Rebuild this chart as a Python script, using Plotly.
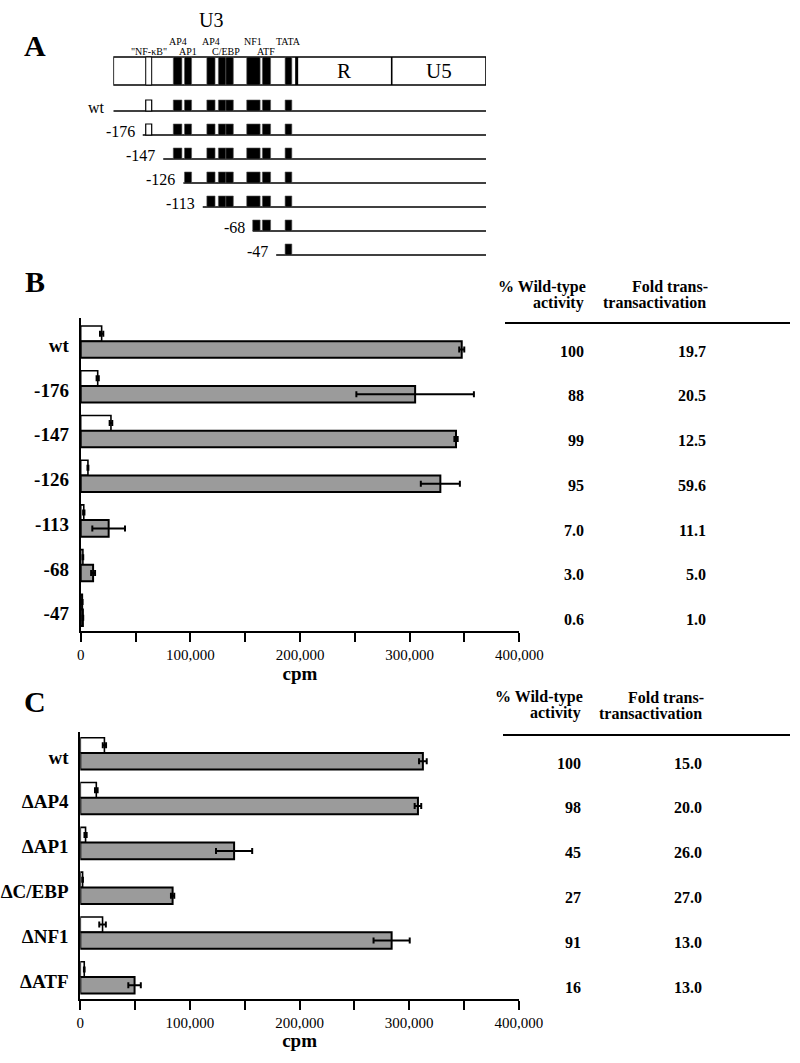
import plotly.graph_objects as go

# ---------------- data ----------------
# Panel A: LTR schematic (schematic units along the LTR, 0-100, not to scale)
ltr_regions = ["U3", "R", "U5"]
ltr_bounds = [0, 49.2, 74.7, 100]
site_names = ['"NF-\u03baB"', "AP4", "AP1", "AP4", "C/EBP", "C/EBP", "NF1", "ATF", "TATA"]
site_start = [8.7, 16.1, 19.1, 25.1, 28.2, 30.2, 35.8, 40.0, 46.1]
site_end = [10.3, 18.4, 21.0, 27.3, 30.2, 32.2, 39.4, 42.2, 47.9]
site_open = [True, False, False, False, False, False, False, False, False]
del_labels = ["wt", "-176", "-147", "-126", "-113", "-68", "-47"]
del_start = [0, 7.9, 13.4, 18.8, 24.0, 37.4, 43.7]

# Panel B: 5' deletions
b_labels = ["wt", "-176", "-147", "-126", "-113", "-68", "-47"]
b_basal = [19100, 15500, 27600, 6600, 2800, 2000, 1500]
b_basal_err = [1500, 1000, 1200, 400, 600, 300, 200]
b_tat = [347500, 305000, 342300, 328000, 25500, 11300, 2000]
b_tat_err = [2300, 53600, 1500, 17800, 14900, 1800, 300]
b_pct_wt = ["100", "88", "99", "95", "7.0", "3.0", "0.6"]
b_fold = ["19.7", "20.5", "12.5", "59.6", "11.1", "5.0", "1.0"]

# Panel C: site mutants
c_labels = ["wt", "\u0394AP4", "\u0394AP1", "\u0394C/EBP", "\u0394NF1", "\u0394ATF"]
c_basal = [22000, 14600, 4800, 2100, 20300, 3600]
c_basal_err = [1500, 1200, 1000, 300, 3000, 300]
c_tat = [312500, 308000, 140300, 84200, 284000, 49500]
c_tat_err = [3500, 3000, 16500, 1500, 16500, 5700]
c_pct_wt = ["100", "98", "45", "27", "91", "16"]
c_fold = ["15.0", "20.0", "26.0", "27.0", "13.0", "13.0"]

x_tickvals = [0, 50000, 100000, 150000, 200000, 250000, 300000, 350000, 400000]
x_ticktext = ["0", "", "100,000", "", "200,000", "", "300,000", "", "400,000"]
table_headers = [["% Wild-type", "activity"], ["Fold trans-", "transactivation"]]

# ---------------- layout helpers ----------------
W, H = 800, 1063
FONT = "Liberation Serif, Times New Roman, serif"
GRAY = "#9b9b9b"


def px(x):
    return x / W


def py(y):
    return 1 - y / H


fig = go.Figure()
shapes = []
annotations = []


def add_bars(values, errs, xa, ya, offset, width, color, lw):
    fig.add_trace(go.Bar(
        orientation="h", x=values, y=list(range(len(values))),
        xaxis=xa, yaxis=ya, offset=offset, width=width,
        marker=dict(color=color, line=dict(color="black", width=lw)),
        error_x=dict(type="data", array=errs, color="black", thickness=2, width=3),
        showlegend=False, hoverinfo="x+y"))


add_bars(b_basal, b_basal_err, "x", "y", -0.43, 0.34, "white", 1.6)
add_bars(b_tat, b_tat_err, "x", "y", -0.09, 0.37, GRAY, 2)
add_bars(c_basal, c_basal_err, "x2", "y2", -0.43, 0.34, "white", 1.6)
add_bars(c_tat, c_tat_err, "x2", "y2", -0.09, 0.37, GRAY, 2)

# ---------------- panel A schematic ----------------
ROW_PX = 24.0
ROW0 = 111.0
A_TOP, A_BOT = 5.0, 265.0


def arow(ypx):
    return (ypx - ROW0) / ROW_PX


box_top, box_bot = arow(57), arow(85)
blk_h = 11 / ROW_PX

# top box
shapes.append(dict(type="rect", xref="x3", yref="y3", x0=ltr_bounds[0], x1=ltr_bounds[-1],
                   y0=box_top, y1=box_bot, line=dict(color="black", width=1.6), fillcolor="rgba(0,0,0,0)"))
for i, s in enumerate(site_start):
    if site_open[i]:
        shapes.append(dict(type="rect", xref="x3", yref="y3", x0=s, x1=site_end[i], y0=box_top, y1=box_bot,
                           line=dict(color="black", width=1), fillcolor="white"))
    else:
        shapes.append(dict(type="rect", xref="x3", yref="y3", x0=s, x1=site_end[i], y0=box_top, y1=box_bot,
                           line=dict(color="#555", width=0.6), fillcolor="black"))
for k, b in enumerate(ltr_bounds[1:-1]):
    shapes.append(dict(type="line", xref="x3", yref="y3", x0=b, x1=b, y0=box_top, y1=box_bot,
                       line=dict(color="black", width=3 if k == 0 else 1.6)))
# region labels
annotations.append(dict(xref="x3", yref="y3", x=(site_start[3] + site_end[3]) / 2, y=arow(20), text=ltr_regions[0],
                        showarrow=False, yanchor="middle", font=dict(family=FONT, size=20, color="black")))
for k in (1, 2):
    annotations.append(dict(xref="x3", yref="y3", x=(ltr_bounds[k] + ltr_bounds[k + 1]) / 2,
                            y=(box_top + box_bot) / 2, text=ltr_regions[k], showarrow=False, yanchor="middle",
                            font=dict(family=FONT, size=21, color="black")))
# site labels (alternating two rows, one label per site name group)
lab_idx = 0
i = 0
while i < len(site_names):
    j = i
    while j + 1 < len(site_names) and site_names[j + 1] == site_names[i]:
        j += 1
    cx = (site_start[i] + site_end[j]) / 2
    yrow = arow(51.5) if lab_idx % 2 == 0 else arow(41)
    annotations.append(dict(xref="x3", yref="y3", x=cx, y=yrow, text=site_names[i], showarrow=False,
                            yanchor="middle", font=dict(family=FONT, size=10, color="black")))
    lab_idx += 1
    i = j + 1

# deletion constructs
lx, ly = [], []
for r, st in enumerate(del_start):
    lx += [st, ltr_bounds[-1], None]
    ly += [r, r, None]
    for i, s in enumerate(site_start):
        if site_end[i] <= st:
            continue
        x0 = max(s, st)
        if site_open[i]:
            shapes.append(dict(type="rect", xref="x3", yref="y3", x0=x0, x1=site_end[i], y0=r - blk_h, y1=r,
                               line=dict(color="black", width=1.2), fillcolor="white"))
        else:
            shapes.append(dict(type="rect", xref="x3", yref="y3", x0=x0, x1=site_end[i], y0=r - blk_h, y1=r,
                               line=dict(color="#555", width=0.6), fillcolor="black"))
    annotations.append(dict(xref="x3", yref="y3", x=st, y=r, xanchor="right", yanchor="middle", xshift=-6,
                            yshift=4, text=del_labels[r], showarrow=False,
                            font=dict(family=FONT, size=16, color="black")))
fig.add_trace(go.Scatter(x=lx, y=ly, xaxis="x3", yaxis="y3", mode="lines",
                         line=dict(color="black", width=1.6), showlegend=False, hoverinfo="skip"))


# ---------------- tables ----------------
def add_table(pcts, folds, ya, col_x, head_y, rule_y, rule_x):
    for r in range(len(pcts)):
        for cx, txt in zip(col_x, (pcts[r], folds[r])):
            annotations.append(dict(xref="paper", yref=ya, x=px(cx), y=r, yshift=-6, text=txt, showarrow=False,
                                    yanchor="middle",
                                    font=dict(family=FONT, size=16, color="black", weight="bold")))
    for c, cx in enumerate(col_x):
        for li, line in enumerate(table_headers[c]):
            annotations.append(dict(xref="paper", yref="paper", x=px(cx + (2 if li == 0 else 0)),
                                    y=py(head_y + 16 * li), text=line, showarrow=False, yanchor="middle",
                                    font=dict(family=FONT, size=16, color="black", weight="bold")))
    shapes.append(dict(type="line", xref="paper", yref="paper", x0=px(rule_x[0]), x1=px(rule_x[1]),
                       y0=py(rule_y), y1=py(rule_y), line=dict(color="black", width=2)))


add_table(b_pct_wt, b_fold, "y", (586, 708), 287, 323, (505, 790))
add_table(c_pct_wt, c_fold, "y2", (583, 704), 697, 735, (503, 790))

# panel letters
for letter, (lx_, ly_) in zip("ABC", [(22, 45), (23, 282), (22, 701)]):
    annotations.append(dict(xref="paper", yref="paper", x=px(lx_), y=py(ly_), text=letter, showarrow=False,
                            yanchor="middle",
                            font=dict(family=FONT, size=30, color="black", weight="bold")))

# ---------------- axes ----------------
xcommon = dict(range=[0, 400000], tickvals=x_tickvals, ticktext=x_ticktext, showline=True, linecolor="black",
               linewidth=2, ticks="outside", ticklen=9, tickwidth=2, tickcolor="black", showgrid=False,
               zeroline=False, tickfont=dict(family=FONT, size=15, color="black"), fixedrange=True,
               automargin=False,
               title=dict(text="cpm", font=dict(family=FONT, size=19, color="black", weight="bold"), standoff=4))
ycommon = dict(showline=True, linewidth=2, linecolor="black", ticks="", showgrid=False, zeroline=False,
               tickfont=dict(family=FONT, size=19, color="black", weight="bold"), ticklabelstandoff=6,
               fixedrange=True, automargin=False)

fig.update_layout(
    width=W, height=H, autosize=False,
    margin=dict(l=0, r=0, t=0, b=0, autoexpand=False),
    paper_bgcolor="white", plot_bgcolor="white",
    barmode="overlay",
    xaxis=dict(domain=[px(80.7), px(519.3)], anchor="y", **xcommon),
    yaxis=dict(domain=[py(631), py(318)], anchor="x", range=[6.39, -0.61],
               tickvals=list(range(len(b_labels))), ticktext=b_labels, **ycommon),
    xaxis2=dict(domain=[px(80.3), px(518.8)], anchor="y2", **xcommon),
    yaxis2=dict(domain=[py(998.5), py(731.7)], anchor="x2", range=[5.39, -0.565],
                tickvals=list(range(len(c_labels))), ticktext=c_labels, **ycommon),
    xaxis3=dict(domain=[px(113.3), px(486)], anchor="y3", range=[0, 100], visible=False, fixedrange=True),
    yaxis3=dict(domain=[py(A_BOT), py(A_TOP)], anchor="x3", range=[arow(A_BOT), arow(A_TOP)],
                visible=False, fixedrange=True),
    shapes=shapes,
    annotations=annotations,
    font=dict(family=FONT, color="black"),
)

fig.write_html("out.html", config={"displayModeBar": False},
               post_script="document.body.style.margin='0';document.body.style.overflow='hidden';")
